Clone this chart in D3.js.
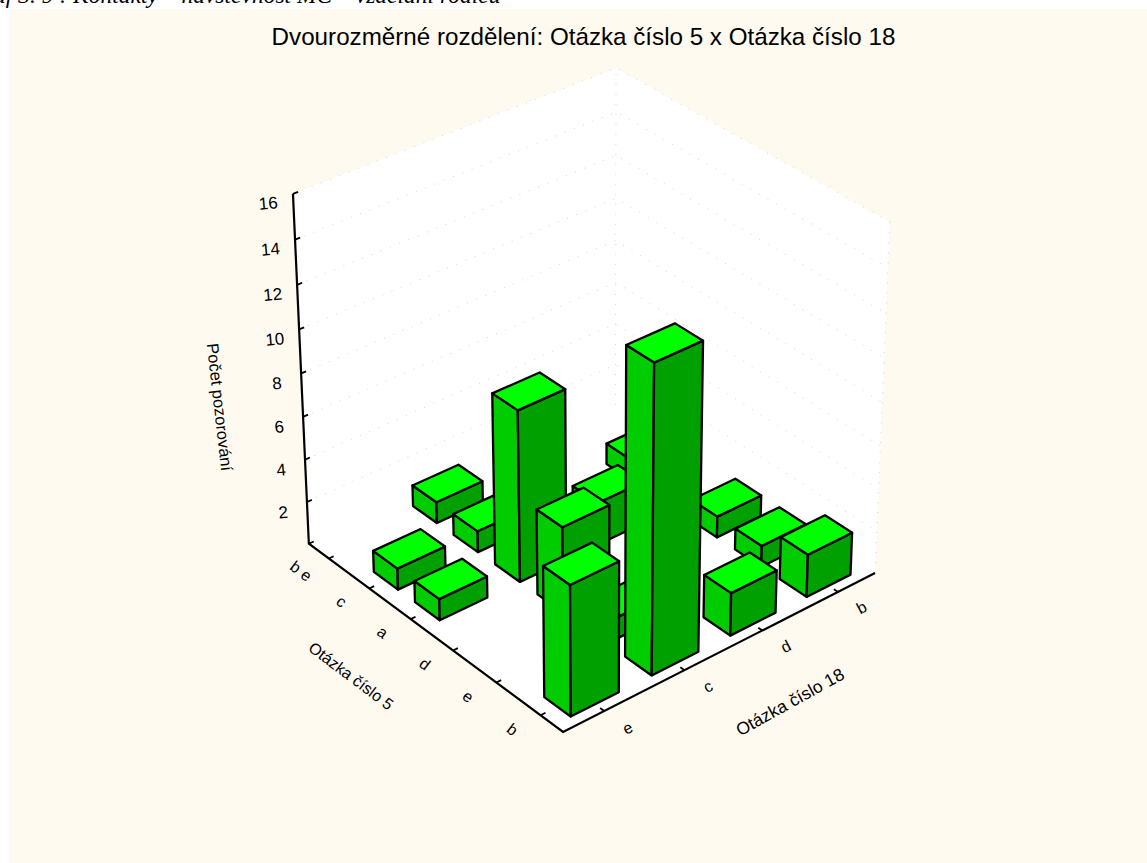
<!DOCTYPE html>
<html><head><meta charset="utf-8">
<script src="https://cdn.jsdelivr.net/npm/d3@7"></script>
<style>
html,body{margin:0;padding:0;background:#fff;overflow:hidden}
svg{display:block}
text{font-family:"Liberation Sans",Arial,sans-serif;fill:#000}
</style></head><body>
<svg id="c" width="1147" height="863"></svg>
<script>
// ---------- data ----------
const q18Categories = ["e","c","d","b"];
const q5Categories = ["b","e","d","a","c","b e"];
const countsQ5b  = [6,14,2,2];
const countsQ5e  = [0,1,0,1];
const countsQ5d  = [0,4,0,1];
const countsQ5a  = [1,8,2,0];
const countsQ5c  = [1,1,0,1];
const countsQ5be = [0,1,0,0];
const zTicks = [2,4,6,8,10,12,14,16];
const pageCaption = "Graf 3. 9 : Kontakty – návštěvnost MC – vzdělání rodičů";
const chartTitle = "Dvourozměrné rozdělení: Otázka číslo 5 x Otázka číslo 18";
const zTitle = "Počet pozorování";
const q5Title = "Otázka číslo 5";
const q18Title = "Otázka číslo 18";

const countRows = [countsQ5b,countsQ5e,countsQ5d,countsQ5a,countsQ5c,countsQ5be];

// ---------- camera: unit-cube points -> screen (solved by least squares) ----------
const calibration = [
  [0,0,0,563,732],[1,0,0,875,573],[0,1,0,309,544],
  [0,1,1,293,194],[1,1,1,616,68],[1,0,1,890,222],[0,1,.5,301,373]
];
function solveCamera(pts){
  const A=[],B=[];
  pts.forEach(([u,v,w,x,y])=>{
    A.push([1,u,v,w,0,0,0,0,-x*u,-x*v,-x*w]);B.push(x);
    A.push([0,0,0,0,1,u,v,w,-y*u,-y*v,-y*w]);B.push(y);
  });
  const n=11, M=d3.range(n).map(i=>d3.range(n+1).map(j=>{
    let s=0;A.forEach((r,k)=>{s+=r[i]*(j<n?r[j]:B[k]);});return s;}));
  for(let i=0;i<n;i++){
    let p=i;for(let r=i+1;r<n;r++)if(Math.abs(M[r][i])>Math.abs(M[p][i]))p=r;
    [M[i],M[p]]=[M[p],M[i]];
    for(let r=0;r<n;r++){if(r===i)continue;const f=M[r][i]/M[i][i];
      for(let c=i;c<=n;c++)M[r][c]-=f*M[i][c];}
  }
  return M.map((r,i)=>r[n]/r[i]);
}
const cam=solveCamera(calibration);
function P(u,v,w){
  const d=1+cam[8]*u+cam[9]*v+cam[10]*w;
  return [(cam[0]+cam[1]*u+cam[2]*v+cam[3]*w)/d,(cam[4]+cam[5]*u+cam[6]*v+cam[7]*w)/d];
}
const poly=a=>"M"+a.map(p=>p.join(",")).join("L")+"Z";
const lineP=a=>"M"+a.map(p=>p.join(",")).join("L");

// ---------- scales ----------
const uScale=d3.scaleBand().domain(q18Categories).range([0,1]).paddingInner(.41).paddingOuter(.205);
const vScale=d3.scaleBand().domain(q5Categories).range([0,1]).paddingInner(.41).paddingOuter(.205);
const zScale=d3.scaleLinear().domain([0,16]).range([0,1]);

const svg=d3.select("#c");
svg.append("rect").attr("width",1147).attr("height",863).attr("fill","#fff");
svg.append("text").text(pageCaption).attr("x",-32).attr("y",3)
  .style("font-family","'Liberation Serif',serif").style("font-style","italic").attr("font-size",23.5);
svg.append("rect").attr("x",9).attr("y",9).attr("width",1138).attr("height",854).attr("fill","#FFFAF0");
svg.append("text").text(chartTitle).attr("x",583.5).attr("y",45).attr("text-anchor","middle").attr("font-size",24.2);

// walls and floor
svg.append("path").attr("fill","#fff")
  .attr("d",poly([P(0,0,0),P(1,0,0),P(1,0,1),P(1,1,1),P(0,1,1),P(0,1,0)]));

// dotted grid on the walls
const grid=svg.append("g").attr("fill","none").attr("stroke","#d4d4d4").attr("stroke-width",1).attr("stroke-dasharray","1 9");
zTicks.forEach(t=>{
  const w=zScale(t);
  grid.append("path").attr("d",lineP([P(0,1,w),P(1,1,w),P(1,0,w)]));
});
grid.append("path").attr("d",lineP([P(1,1,0),P(1,1,1)]));
grid.append("path").attr("d",lineP([P(1,0,0),P(1,0,1)]));

// axes
const axes=svg.append("g").attr("fill","none").attr("stroke","#000");
axes.append("path").attr("stroke-width",2.2).attr("d",lineP([P(0,1,1),P(0,1,0),P(0,0,0),P(1,0,0)]));
const tickLen=.015;
axes.selectAll(".zt").data([0,...zTicks]).join("path").attr("class","zt").attr("stroke-width",1.8)
  .attr("d",d=>lineP([P(0,1,zScale(d)),P(tickLen,1,zScale(d))]));
axes.selectAll(".ut").data(q18Categories).join("path").attr("class","ut").attr("stroke-width",1.8)
  .attr("d",d=>{const c=uScale(d)+uScale.bandwidth()/2;return lineP([P(c,0,0),P(c,tickLen,0)]);});
axes.selectAll(".vt").data(q5Categories).join("path").attr("class","vt").attr("stroke-width",1.8)
  .attr("d",d=>{const c=vScale(d)+vScale.bandwidth()/2;return lineP([P(0,c,0),P(tickLen,c,0)]);});

// bars, back to front
const bars=[];
q5Categories.forEach((q5,j)=>q18Categories.forEach((q18,i)=>{
  const value=countRows[j][i];
  if(value>0)bars.push({q5,q18,value,order:i+j});
}));
bars.sort((a,b)=>d3.descending(a.order,b.order));
const barG=svg.append("g").selectAll("g").data(bars).join("g")
  .attr("stroke","#000").attr("stroke-width",2.3).attr("stroke-linejoin","round");
const geo=d=>({u0:uScale(d.q18),u1:uScale(d.q18)+uScale.bandwidth(),
               v0:vScale(d.q5),v1:vScale(d.q5)+vScale.bandwidth(),w:zScale(d.value)});
barG.append("path").attr("fill","#00CC00").attr("d",d=>{const g=geo(d);
  return poly([P(g.u0,g.v0,0),P(g.u0,g.v1,0),P(g.u0,g.v1,g.w),P(g.u0,g.v0,g.w)]);});
barG.append("path").attr("fill","#00A000").attr("d",d=>{const g=geo(d);
  return poly([P(g.u0,g.v0,0),P(g.u1,g.v0,0),P(g.u1,g.v0,g.w),P(g.u0,g.v0,g.w)]);});
barG.append("path").attr("fill","#00FF00").attr("d",d=>{const g=geo(d);
  return poly([P(g.u0,g.v0,g.w),P(g.u1,g.v0,g.w),P(g.u1,g.v1,g.w),P(g.u0,g.v1,g.w)]);});

// labels
function label(text,p,rot,size){
  svg.append("text").text(text).attr("text-anchor","middle").attr("dominant-baseline","central")
    .attr("font-size",size).attr("transform",`translate(${p[0]},${p[1]}) rotate(${rot})`);
}
zTicks.forEach(t=>label(String(t),P(-.072,1,zScale(t)),-5,17));
q18Categories.forEach(c=>label(c,P(uScale(c)+uScale.bandwidth()/2,-.085,0),-28,16));
q5Categories.forEach(c=>label(c,P(-.085,vScale(c)+vScale.bandwidth()/2,0),37,16));
svg.append("text").text(zTitle).attr("text-anchor","middle").attr("dominant-baseline","central")
  .attr("font-size",16.5).attr("transform","translate(220,407) rotate(83.5)");
svg.append("text").text(q5Title).attr("text-anchor","middle").attr("dominant-baseline","central")
  .attr("font-size",16).attr("transform","translate(351,676) rotate(37)");
svg.append("text").text(q18Title).attr("text-anchor","middle").attr("dominant-baseline","central")
  .attr("font-size",17.5).attr("transform","translate(790,702) rotate(-29)");
</script>
</body></html>
